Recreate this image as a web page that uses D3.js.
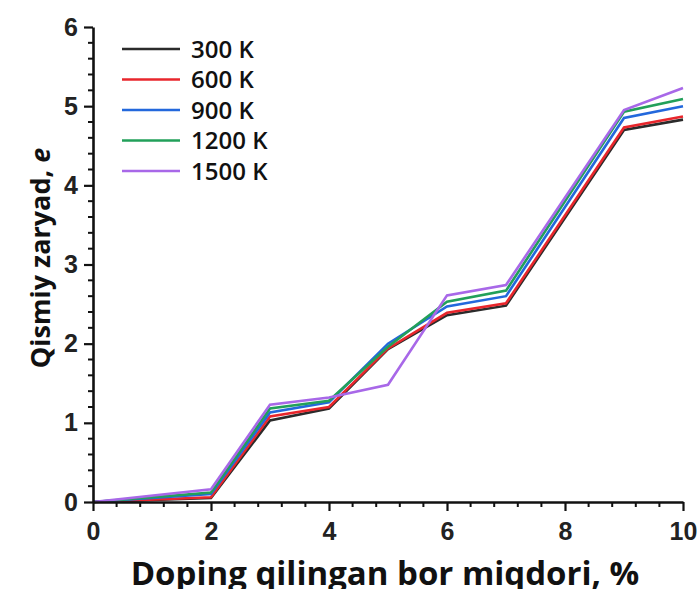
<!DOCTYPE html>
<html>
<head>
<meta charset="utf-8">
<script src="https://cdn.jsdelivr.net/npm/d3@7"></script>
<style>
  html, body { margin: 0; padding: 0; background: #fff; }
  svg { display: block; }
</style>
</head>
<body>
<svg id="chart" width="699" height="589"></svg>
<script>
// Boron doping level, %
const doping = [0, 2, 3, 4, 5, 6, 7, 9, 10];

// Partial charge (e) per temperature
const temperatures = ["300 K", "600 K", "900 K", "1200 K", "1500 K"];
const charge300  = [0, 0.05, 1.03, 1.18, 1.93, 2.36, 2.48, 4.70, 4.83];
const charge600  = [0, 0.06, 1.08, 1.20, 1.94, 2.39, 2.51, 4.73, 4.87];
const charge900  = [0, 0.10, 1.13, 1.26, 2.00, 2.47, 2.60, 4.85, 5.00];
const charge1200 = [0, 0.12, 1.18, 1.28, 1.96, 2.53, 2.67, 4.93, 5.09];
const charge1500 = [0, 0.16, 1.23, 1.32, 1.48, 2.61, 2.74, 4.95, 5.23];
const seriesColors = ["#2b2b2b", "#e8262c", "#2368dc", "#22a05a", "#a868e8"];

const xTicks = [0, 2, 4, 6, 8, 10];
const yTicks = [0, 1, 2, 3, 4, 5, 6];

const series = [charge300, charge600, charge900, charge1200, charge1500].map((vals, i) => ({
  name: temperatures[i],
  color: seriesColors[i],
  points: doping.map((d, j) => [d, vals[j]])
}));

const svg = d3.select("#chart");
const plot = { left: 93, right: 683, top: 27, bottom: 502 };

const x = d3.scaleLinear().domain([0, 10]).range([plot.left, plot.right]);
const y = d3.scaleLinear().domain([0, 6]).range([plot.bottom, plot.top]);

const tickFont = "'Liberation Sans', Arial, sans-serif";

// Lines
const line = d3.line().x(d => x(d[0])).y(d => y(d[1]));
svg.append("g").selectAll("path")
  .data(series)
  .join("path")
  .attr("d", d => line(d.points))
  .attr("fill", "none")
  .attr("stroke", d => d.color)
  .attr("stroke-width", 2.6)
  .attr("stroke-linejoin", "miter");

// Minor ticks
const xMinor = d3.range(0, 10.001, 0.4).filter(v => Math.abs(v / 2 - Math.round(v / 2)) > 1e-6);
const yMinor = d3.range(0, 6.001, 0.2).filter(v => Math.abs(v - Math.round(v)) > 1e-6);

const xAxis = svg.append("g")
  .attr("transform", `translate(0,${plot.bottom})`)
  .call(d3.axisBottom(x).tickValues(xTicks).tickFormat(d3.format("d"))
    .tickSize(9).tickPadding(11).tickSizeOuter(0));
xAxis.append("g").selectAll("line").data(xMinor).join("line")
  .attr("x1", d => x(d)).attr("x2", d => x(d))
  .attr("y1", 0).attr("y2", 5)
  .attr("stroke", "#111").attr("stroke-width", 2);

const yAxis = svg.append("g")
  .attr("transform", `translate(${plot.left},0)`)
  .call(d3.axisLeft(y).tickValues(yTicks).tickFormat(d3.format("d"))
    .tickSize(9).tickPadding(6).tickSizeOuter(0));
yAxis.append("g").selectAll("line").data(yMinor).join("line")
  .attr("x1", 0).attr("x2", -5)
  .attr("y1", d => y(d)).attr("y2", d => y(d))
  .attr("stroke", "#111").attr("stroke-width", 2);

[xAxis, yAxis].forEach(g => {
  g.attr("font-size", 25).attr("font-family", tickFont);
  g.select(".domain").attr("stroke", "#111").attr("stroke-width", 2.6);
  g.selectAll(".tick line").attr("stroke", "#111").attr("stroke-width", 2.2);
  g.selectAll(".tick text")
    .attr("fill", "#222")
    .style("font-family", tickFont)
    .style("font-weight", "bold")
    .style("font-size", "25px");
});

// Axis titles
svg.append("text")
  .attr("x", 385).attr("y", 585)
  .attr("text-anchor", "middle")
  .style("font-family", "'Open Sans', sans-serif")
  .style("font-weight", "bold")
  .style("font-size", "33px")
  .attr("fill", "#111")
  .text("Doping qilingan bor miqdori, %");

const yTitle = svg.append("text")
  .attr("transform", "translate(50,258) rotate(-90)")
  .attr("text-anchor", "middle")
  .style("font-family", "'Open Sans', sans-serif")
  .style("font-weight", "bold")
  .style("font-size", "27px")
  .attr("fill", "#111");
yTitle.append("tspan").text("Qismiy zaryad, ");
yTitle.append("tspan").style("font-style", "italic").text("e");

// Legend
const legend = svg.append("g").attr("transform", "translate(122,49)");
const rows = legend.selectAll("g").data(series).join("g")
  .attr("transform", (d, i) => `translate(0,${i * 30.5})`);
rows.append("line")
  .attr("x1", 0).attr("x2", 58).attr("y1", 0).attr("y2", 0)
  .attr("stroke", d => d.color).attr("stroke-width", 2.6);
rows.append("text")
  .attr("x", 69).attr("y", 0).attr("dy", "0.36em")
  .style("font-family", "'Open Sans', sans-serif")
  .style("font-weight", "600")
  .style("font-size", "24px")
  .attr("fill", "#111")
  .text(d => d.name);
</script>
</body>
</html>
